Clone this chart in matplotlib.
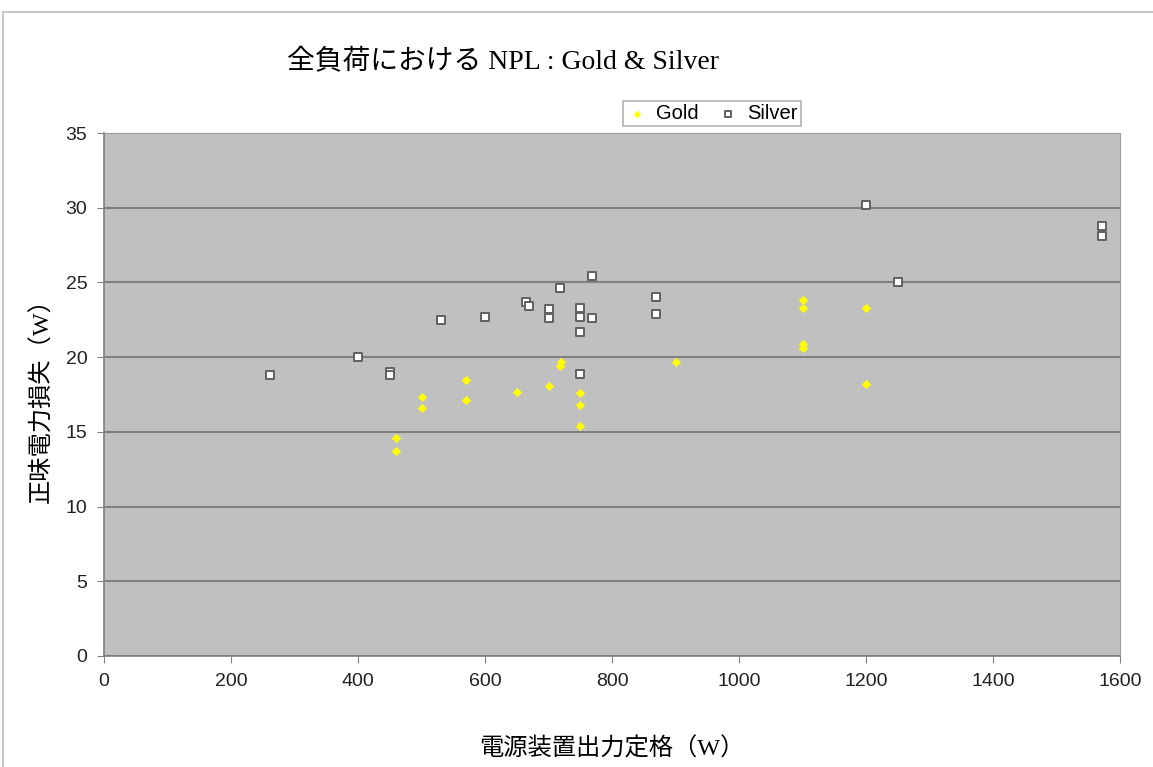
import matplotlib
matplotlib.use("Agg")
import matplotlib.pyplot as plt
from matplotlib.patches import Rectangle

# Data
gold_rating = [460, 460, 500, 500, 570, 570, 650, 700, 718, 720,
               750, 750, 750, 900, 1100, 1100, 1100, 1100, 1200, 1200]
gold_loss = [14.6, 13.7, 17.3, 16.6, 18.5, 17.1, 17.7, 18.1, 19.4, 19.7,
             17.6, 16.8, 15.4, 19.7, 23.8, 23.3, 20.9, 20.6, 23.3, 18.2]

silver_rating = [262, 400, 450, 450, 530, 600, 665, 670, 700, 700,
                 718, 750, 750, 750, 750, 768, 768, 870, 870, 1200,
                 1250, 1572, 1572]
silver_loss = [18.8, 20.0, 19.0, 18.8, 22.5, 22.7, 23.7, 23.4, 23.2, 22.6,
               24.6, 23.3, 22.7, 21.7, 18.9, 22.6, 25.4, 24.0, 22.9, 30.2,
               25.0, 28.8, 28.1]

title = "全負荷における NPL : Gold & Silver"
xlabel = "電源装置出力定格（W）"
ylabel = "正味電力損失（W）"
x_ticks = list(range(0, 1601, 200))
y_ticks = list(range(0, 36, 5))

serif_jp = ["Liberation Serif", "Noto Sans CJK JP"]
sans = ["Liberation Sans", "DejaVu Sans"]

fig = plt.figure(figsize=(11.53, 7.67), dpi=100)
fig.patch.set_facecolor("white")

# light outer chart frame
fig.patches.append(Rectangle((3 / 1153, -0.05), 1.2, (767 - 12) / 767 + 0.05,
                             transform=fig.transFigure, fill=False,
                             edgecolor="#c8c8c8", linewidth=1.5))

ax = fig.add_axes([104 / 1153, 1 - 656 / 767, (1120 - 104) / 1153, (656 - 133) / 767])
ax.set_facecolor("#c0c0c0")

ax.scatter(gold_rating, gold_loss, marker="D", s=18, color="#ffff00",
           edgecolors="#ffff00", linewidths=0.5, label="Gold", zorder=3)
ax.scatter(silver_rating, silver_loss, marker="s", s=34, color="white",
           edgecolors="#606060", linewidths=1.4, label="Silver", zorder=3)

ax.set_xlim(0, 1600)
ax.set_ylim(0, 35)
ax.set_xticks(x_ticks)
ax.set_yticks(y_ticks)
ax.grid(axis="y", color="#808080", linewidth=1.5)
ax.set_axisbelow(True)
for side in ["top", "right"]:
    ax.spines[side].set_color("#a0a0a0")
for side in ["left", "bottom"]:
    ax.spines[side].set_color("#808080")
    ax.spines[side].set_linewidth(1.2)
ax.tick_params(direction="out", length=5, color="#808080", labelsize=14, pad=7)
for lbl in ax.get_xticklabels() + ax.get_yticklabels():
    lbl.set_family(sans)
    lbl.set_color("#222222")

ax.set_xlabel(xlabel, family=serif_jp, fontsize=17.5, labelpad=34)
ax.set_ylabel(ylabel, family=serif_jp, fontsize=17.5, labelpad=9)

fig.text(503 / 1153, 1 - 62 / 767, title, family=serif_jp, fontsize=20,
         ha="center", va="center")

leg = ax.legend(loc="lower left", bbox_to_anchor=(623 / 1153, 1 - 126 / 767),
                bbox_transform=fig.transFigure, borderaxespad=0, ncol=2, frameon=True,
                fancybox=False, edgecolor="#a0a0a0", prop={"family": sans, "size": 14.5},
                handletextpad=0.4, columnspacing=0.9, borderpad=0.15,
                handlelength=1.1, markerscale=0.8)
leg.get_frame().set_linewidth(1.2)

fig.savefig("out.png", dpi=100)
